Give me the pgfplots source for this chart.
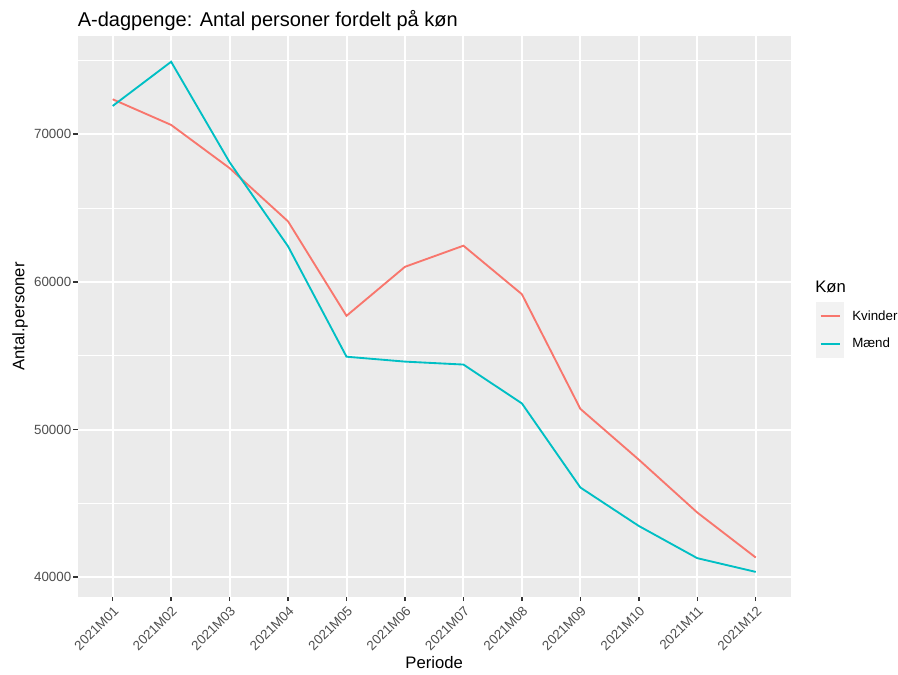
\documentclass[border=0pt]{standalone}
\usepackage{fontspec}
\setmainfont{Liberation Sans}
\usepackage{pgfplots}
\pgfplotsset{compat=1.18}
\definecolor{panelbg}{HTML}{EBEBEB}
\definecolor{keybg}{HTML}{F2F2F2}
\definecolor{kv}{HTML}{F8766D}
\definecolor{mn}{HTML}{00BFC4}
\definecolor{tickc}{HTML}{333333}
\definecolor{ticklab}{HTML}{4D4D4D}
\begin{document}
\begin{tikzpicture}
\useasboundingbox (0,0) rectangle (673.5pt,505.5pt);
\begin{axis}[
  name=ax,
  at={(58.2pt,57.75pt)}, anchor=south west,
  scale only axis, width=534.9pt, height=420.75pt,
  xmin=-0.6, xmax=11.6, ymin=38660, ymax=76650,
  scaled ticks=false,
  axis background/.style={fill=panelbg},
  axis line style={draw=none},
  xtick={0,...,11},
  xticklabels={2021M01,2021M02,2021M03,2021M04,2021M05,2021M06,2021M07,2021M08,2021M09,2021M10,2021M11,2021M12},
  ytick={40000,50000,60000,70000},
  yticklabels={40000,50000,60000,70000},
  minor ytick={45000,55000,65000,75000},
  xmajorgrids, ymajorgrids, yminorgrids,
  major grid style={white, line width=1.5pt},
  minor grid style={white, line width=0.75pt},
  tick align=outside,
  tick pos=left,
  major tick length=3.1pt,
  minor tick length=0pt,
  tick style={draw=tickc, line width=1.1pt},
  yticklabel style={font=\fontsize{10}{12}\selectfont, text=ticklab, inner sep=1.5pt},
  xticklabel style={font=\fontsize{10}{12}\selectfont, text=ticklab, rotate=45, anchor=north east, inner sep=2pt},
  xlabel={Periode},
  every axis x label/.style={at={(rel axis cs:0.5,-0.1266)}, anchor=base, inner sep=0pt, font=\fontsize{12.5}{15}\selectfont},
  ylabel={Antal.personer},
  every axis y label/.style={at={(rel axis cs:-0.0808,0.5)}, rotate=90, anchor=center, inner sep=0pt, font=\fontsize{12.5}{15}\selectfont},
  legend image code/.code={\fill[keybg] (0pt,-9.75pt) rectangle (19.5pt,9.75pt); \draw[#1, line width=1.5pt] (2.5pt,0pt) -- (17pt,0pt);},
  legend style={at={(1,0.5258)}, anchor=north west, xshift=19pt, draw=none, fill=none, inner sep=0pt, row sep=0pt, column sep=6pt, nodes={inner sep=0pt}, font=\fontsize{10}{12}\selectfont},
  legend cell align=left,
]
\addplot[kv, line width=1.4pt] coordinates {
(0,72365) (1,70628) (2,67703) (3,64095) (4,57700) (5,61020) (6,62449) (7,59163) (8,51400) (9,47960) (10,44380) (11,41333)};
\addlegendentry{Kvinder}
\addplot[mn, line width=1.4pt] coordinates {
(0,71912) (1,74905) (2,68100) (3,62405) (4,54932) (5,54600) (6,54400) (7,51769) (8,46075) (9,43470) (10,41290) (11,40360)};
\addlegendentry{Mænd}
\end{axis}
\node[anchor=base west, inner sep=0pt, font=\fontsize{15}{18}\selectfont] at ([xshift=0pt,yshift=7pt]ax.north west) {A-dagpenge: Antal personer fordelt på køn};
\node[anchor=base west, inner sep=0pt, font=\fontsize{12.5}{15}\selectfont] at ([xshift=18.2pt,yshift=228pt]ax.south east) {Køn};
\end{tikzpicture}
\end{document}
